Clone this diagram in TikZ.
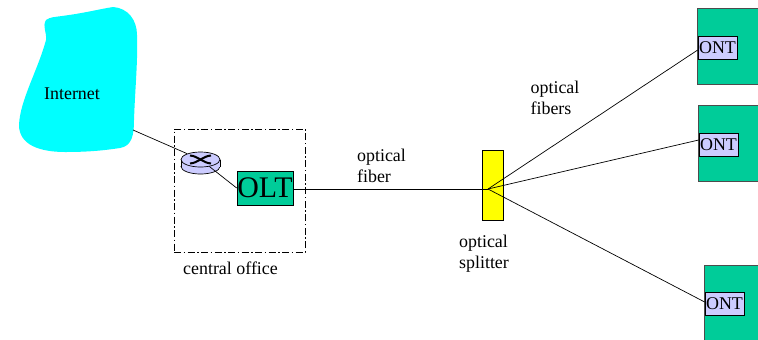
\documentclass[tikz,border=0pt]{standalone}
\usepackage{fontspec}
\setmainfont{Liberation Serif}
\definecolor{ontgreen}{HTML}{00CC99}
\definecolor{routerblue}{HTML}{CCCCFF}
\definecolor{cloudcyan}{HTML}{00FFFF}
\definecolor{splitteryellow}{HTML}{FFFF00}
\tikzset{ont box/.style={draw=black!70, fill=ontgreen, inner sep=0pt, anchor=north west}}
\tikzset{ont label/.style={draw, fill=routerblue, inner sep=0pt, minimum height=23bp, minimum width=39bp, font=\fontsize{18}{18}\selectfont}}
\tikzset{caption/.style={align=center, inner sep=0pt, font=\fontsize{18}{21}\selectfont}}
\tikzset{router disc/.style={draw, fill=routerblue, ellipse, inner sep=0pt, minimum width=39bp, minimum height=15bp}}

\usetikzlibrary{shapes.geometric}

\begin{document}
\begin{tikzpicture}[x=1bp, y=-1bp, line width=0.7bp]
\useasboundingbox (0,0) rectangle (758,339);

% cloud
\fill[cloudcyan] (46,20) .. controls (50,17) and (55,17) .. (62,16)
	.. controls (85,13) and (100,9) .. (113,7)
	.. controls (128,8) and (137,20) .. (137,35)
	.. controls (138,60) and (135,90) .. (134,120)
	.. controls (134,135) and (132,146) .. (120,148)
	.. controls (100,151) and (85,152) .. (65,152)
	.. controls (40,152) and (19,145) .. (19,125)
	.. controls (20,100) and (38,70) .. (46,40)
	.. controls (47,32) and (42,27) .. (46,20) -- cycle;
\node[caption] (internet) at (72,94) {Internet};
\coordinate (cloudedge) at (133,130);

% central office
\node[draw, dash pattern=on 7bp off 2.5bp on 1.5bp off 2.5bp, minimum width=131bp, minimum height=123bp, inner sep=0pt] (office) at (239.5,190.5) {};
\node[caption] (officelabel) at (230.5,268) {central office};

% router
\node[router disc] (routerbase) at (200.5,166.5) {};
\fill[routerblue] (181.5,159.5) rectangle (220,166.5);
\draw (181,159.5) -- (181,166.5);
\draw (220,159.5) -- (220,166.5);
\node[router disc] (router) at (200.5,159.5) {};
\draw[line width=2bp] (190,155.5) .. controls (198,156) and (203,163) .. (211,163.5);
\draw[line width=2bp] (190,163.5) .. controls (198,163) and (203,156) .. (211,155.5);

% olt
\node[draw, fill=ontgreen, inner sep=0pt, minimum width=56bp, minimum height=34bp, font=\fontsize{30}{30}\selectfont] (olt) at (265,188) {OLT};

% splitter
\node[draw, fill=splitteryellow, inner sep=0pt, minimum width=21bp, minimum height=70bp] (splitter) at (492.5,185) {};
\coordinate (fan) at (488,189);

% onts
\node[ont box, minimum width=70bp, minimum height=76bp] (onu1) at (697,8) {};
\node[ont label] (ont1) at (717.5,47.5) {ONT};
\node[ont box, minimum width=70bp, minimum height=76bp] (onu2) at (698,105) {};
\node[ont label] (ont2) at (718.5,144.5) {ONT};
\node[ont box, minimum width=70bp, minimum height=90bp] (onu3) at (704,265) {};
\node[ont label] (ont3) at (724.5,304) {ONT};

% fibers
\draw (cloudedge) -- (router);
\draw (router) -- (olt.west);
\draw (olt.east |- fan) -- (fan);
\draw (fan) -- ([yshift=-2.5bp]ont1.west);
\draw (fan) -- ([yshift=4.5bp]ont2.west);
\draw (fan) -- ([yshift=2bp]ont3.west);

% labels
\node[caption, align=left] (fiberlabel) at (381.5,165.5) {optical\\fiber};
\node[caption, align=left] (fiberslabel) at (555,98) {optical\\fibers};
\node[caption, align=left] (splitterlabel) at (484,253.5) {optical\\splitter};
\end{tikzpicture}
\end{document}
